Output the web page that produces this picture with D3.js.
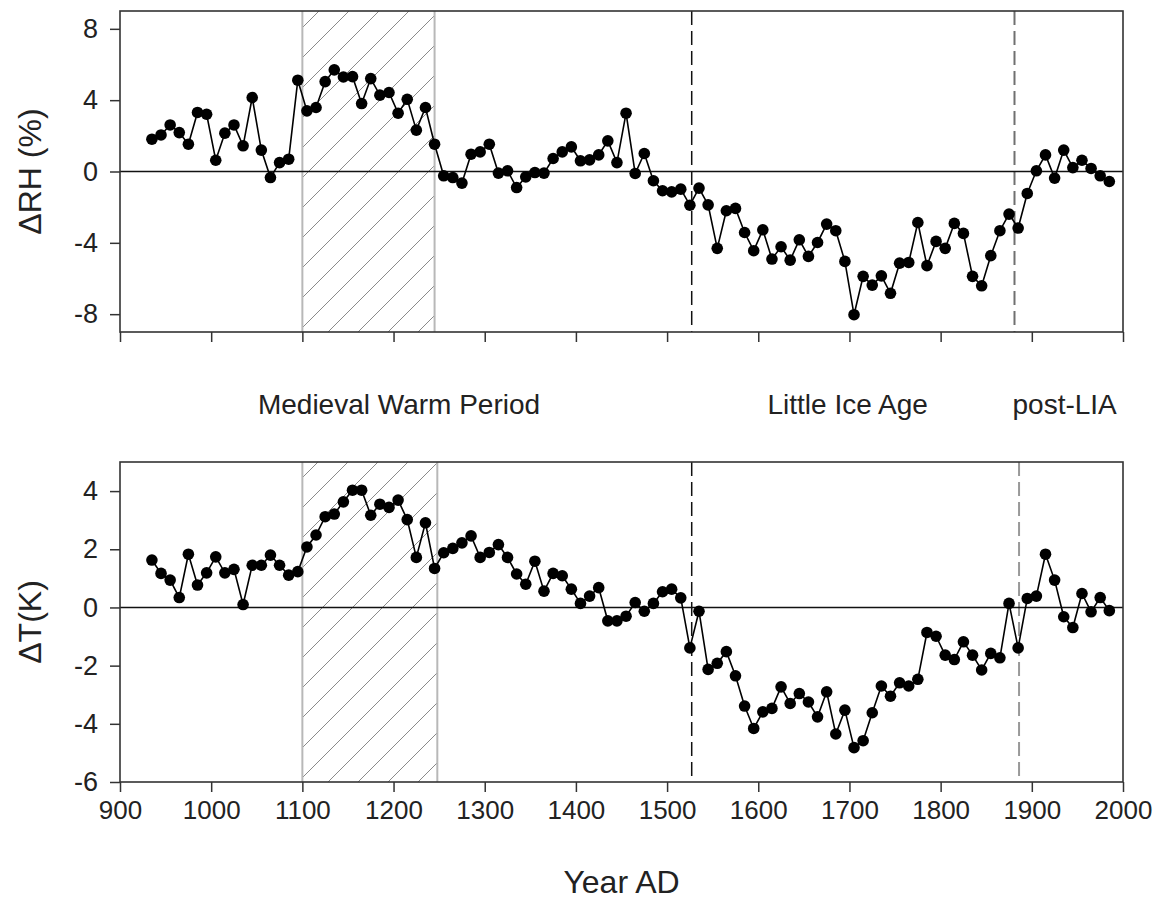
<!DOCTYPE html>
<html>
<head>
<meta charset="utf-8">
<script src="https://cdn.jsdelivr.net/npm/d3@7"></script>
<style>
  html, body { margin: 0; padding: 0; background: #fff; }
  svg { display: block; font-family: "Liberation Sans", Arial, sans-serif; }
</style>
</head>
<body>
<svg id="chart" width="1161" height="900"></svg>
<script>
// ---- data ----
const years = [935,945,955,965,975,985,995,1005,1015,1025,1035,1045,1055,1065,1075,1085,1095,1105,1115,1125,1135,1145,1155,1165,1175,
  1185,1195,1205,1215,1225,1235,1245,1255,1265,1275,1285,1295,1305,1315,1325,1335,1345,1355,1365,1375,1385,1395,1405,1415,1425,1435,1445,1455,
  1465,1475,1485,1495,1505,1515,1525,1535,1545,1555,1565,1575,1585,1595,1605,1615,1625,1635,1645,1655,1665,1675,1685,1695,1705,1715,
  1725,1735,1745,1755,1765,1775,1785,1795,1805,1815,1825,1835,1845,1855,1865,1875,1885,1895,1905,1915,1925,1935,1945,1955,1965,1975,1985];

const deltaRH = [1.81,2.05,2.61,2.18,1.53,3.31,3.21,0.63,2.15,2.61,1.44,4.15,1.20,-0.34,0.50,0.69,5.12,3.40,3.59,5.04,5.70,5.30,5.32,3.81,5.21,
  4.28,4.43,3.27,4.05,2.32,3.59,1.53,-0.24,-0.34,-0.65,0.97,1.10,1.53,-0.09,0.04,-0.90,-0.30,-0.06,-0.09,0.73,1.10,1.38,0.60,0.65,0.93,1.72,0.50,3.27,
  -0.11,1.01,-0.52,-1.08,-1.14,-0.99,-1.89,-0.93,-1.87,-4.31,-2.20,-2.07,-3.42,-4.44,-3.27,-4.91,-4.22,-4.97,-3.83,-4.76,-3.98,-2.95,-3.32,-5.04,-8.03,-5.88,
  -6.37,-5.85,-6.83,-5.14,-5.10,-2.86,-5.28,-3.92,-4.31,-2.91,-3.47,-5.88,-6.41,-4.72,-3.32,-2.39,-3.17,-1.23,0.04,0.93,-0.37,1.20,0.22,0.63,0.17,-0.24,-0.56];

const deltaT = [1.63,1.17,0.94,0.34,1.83,0.77,1.19,1.74,1.19,1.31,0.10,1.45,1.45,1.80,1.45,1.11,1.23,2.08,2.49,3.12,3.21,3.63,4.03,4.03,3.17,
  3.55,3.44,3.69,3.02,1.72,2.91,1.34,1.88,2.03,2.22,2.46,1.72,1.89,2.16,1.72,1.15,0.80,1.59,0.56,1.17,1.09,0.63,0.14,0.39,0.68,-0.46,-0.46,-0.30,
  0.17,-0.13,0.14,0.54,0.63,0.33,-1.39,-0.13,-2.13,-1.92,-1.52,-2.35,-3.39,-4.16,-3.59,-3.47,-2.73,-3.30,-2.96,-3.25,-3.76,-2.90,-4.35,-3.53,-4.82,-4.58,
  -3.62,-2.70,-3.05,-2.59,-2.70,-2.47,-0.86,-0.99,-1.64,-1.79,-1.18,-1.64,-2.15,-1.58,-1.73,0.14,-1.39,0.31,0.39,1.83,0.94,-0.32,-0.69,0.48,-0.15,0.34,-0.11];

const xTicks = [900,1000,1100,1200,1300,1400,1500,1600,1700,1800,1900,2000];
const rhTicks = [8,4,0,-4,-8];
const tTicks = [4,2,0,-2,-4,-6];
const rhDomain = [-9, 9];
const tDomain = [-6, 5];
const mwpTop = [1100, 1245];     // hatched Medieval Warm Period (top panel)
const mwpBottom = [1100, 1248];  // hatched Medieval Warm Period (bottom panel)
const liaStartYear = 1527;
const postLiaTop = 1881;
const postLiaBottom = 1886;
const periodLabels = ["Medieval Warm Period", "Little Ice Age", "post-LIA"];
const periodLabelYears = [1206, 1698, 1936];

// ---- layout ----
const svg = d3.select("#chart");
const left = 120, right = 1123;
const x = d3.scaleLinear().domain([900, 2000]).range([left, right]);

const defs = svg.append("defs");
const pat = defs.append("pattern").attr("id", "hatch")
  .attr("patternUnits", "userSpaceOnUse").attr("width", 30).attr("height", 30);
pat.append("path").attr("d", "M0,30 L30,0 M-5,5 L5,-5 M25,35 L35,25")
  .attr("stroke", "#8a8a8a").attr("stroke-width", 1).attr("fill", "none");

function panel(cfg) {
  const y = d3.scaleLinear().domain(cfg.domain).range(cfg.range);
  const g = svg.append("g");
  const top = cfg.range[1], bottom = cfg.range[0];

  // hatched period
  g.append("rect")
    .attr("x", x(cfg.mwp[0])).attr("width", x(cfg.mwp[1]) - x(cfg.mwp[0]))
    .attr("y", top).attr("height", bottom - top)
    .attr("fill", "url(#hatch)");
  cfg.mwp.forEach(v => {
    g.append("line").attr("x1", x(v)).attr("x2", x(v)).attr("y1", top).attr("y2", bottom)
      .attr("stroke", "#b8b8b8").attr("stroke-width", 2);
  });

  // dashed lines
  g.append("line").attr("x1", x(liaStartYear)).attr("x2", x(liaStartYear))
    .attr("y1", top).attr("y2", bottom)
    .attr("stroke", "#111").attr("stroke-width", 1.5).attr("stroke-dasharray", "14,6");
  g.append("line").attr("x1", x(cfg.post)).attr("x2", x(cfg.post))
    .attr("y1", top).attr("y2", bottom)
    .attr("stroke", cfg.postColor).attr("stroke-width", 2).attr("stroke-dasharray", "14,6");

  // zero line
  g.append("line").attr("x1", left).attr("x2", right).attr("y1", y(0)).attr("y2", y(0))
    .attr("stroke", "#111").attr("stroke-width", 1.5);

  // frame
  g.append("rect").attr("x", left).attr("y", top).attr("width", right - left).attr("height", bottom - top)
    .attr("fill", "none").attr("stroke", "#333").attr("stroke-width", 1.6);

  // axes
  const ya = g.append("g").attr("transform", `translate(${left},0)`)
    .call(d3.axisLeft(y).tickValues(cfg.ticks).tickSize(10).tickPadding(12).tickFormat(d => String(d)));
  ya.select(".domain").remove();
  ya.selectAll("line").attr("stroke", "#333").attr("stroke-width", 1.5);
  ya.selectAll("text").attr("font-size", 27).attr("fill", "#222")
    .attr("font-family", "'Liberation Sans', Arial, sans-serif");

  const xa = g.append("g").attr("transform", `translate(0,${bottom})`)
    .call(d3.axisBottom(x).tickValues(xTicks).tickSize(10).tickPadding(9)
      .tickFormat(cfg.xLabels ? (d => String(d)) : () => ""));
  xa.select(".domain").remove();
  xa.selectAll("line").attr("stroke", "#333").attr("stroke-width", 1.5);
  xa.selectAll("text").attr("font-size", 26).attr("fill", "#222")
    .attr("font-family", "'Liberation Sans', Arial, sans-serif");

  // series
  const pts = years.map((yr, i) => [yr, cfg.values[i]]);
  g.append("path").datum(pts)
    .attr("d", d3.line().x(d => x(d[0])).y(d => y(d[1])))
    .attr("fill", "none").attr("stroke", "#000").attr("stroke-width", 1.6);
  g.selectAll("circle.pt").data(pts).enter().append("circle")
    .attr("cx", d => x(d[0])).attr("cy", d => y(d[1])).attr("r", 5.8).attr("fill", "#000");

  // y title
  svg.append("text")
    .attr("transform", `translate(${cfg.titleX},${(top + bottom) / 2}) rotate(-90)`)
    .attr("text-anchor", "middle").attr("dominant-baseline", "central")
    .attr("font-size", 32).attr("fill", "#222").text(cfg.title);
}

panel({ domain: rhDomain, range: [332, 11], ticks: rhTicks, values: deltaRH, mwp: mwpTop,
  post: postLiaTop, postColor: "#707070", xLabels: false, title: "ΔRH (%)", titleX: 30 });
panel({ domain: tDomain, range: [782, 462], ticks: tTicks, values: deltaT, mwp: mwpBottom,
  post: postLiaBottom, postColor: "#999", xLabels: true, title: "ΔT(K)", titleX: 30 });

// period labels
svg.selectAll("text.period").data(periodLabels).enter().append("text")
  .attr("class", "period")
  .attr("x", (d, i) => x(periodLabelYears[i])).attr("y", 414)
  .attr("text-anchor", "middle").attr("font-size", 28).attr("fill", "#222")
  .text(d => d);

// x title
svg.append("text").attr("x", (left + right) / 2).attr("y", 893)
  .attr("text-anchor", "middle").attr("font-size", 32).attr("fill", "#222").text("Year AD");
</script>
</body>
</html>
